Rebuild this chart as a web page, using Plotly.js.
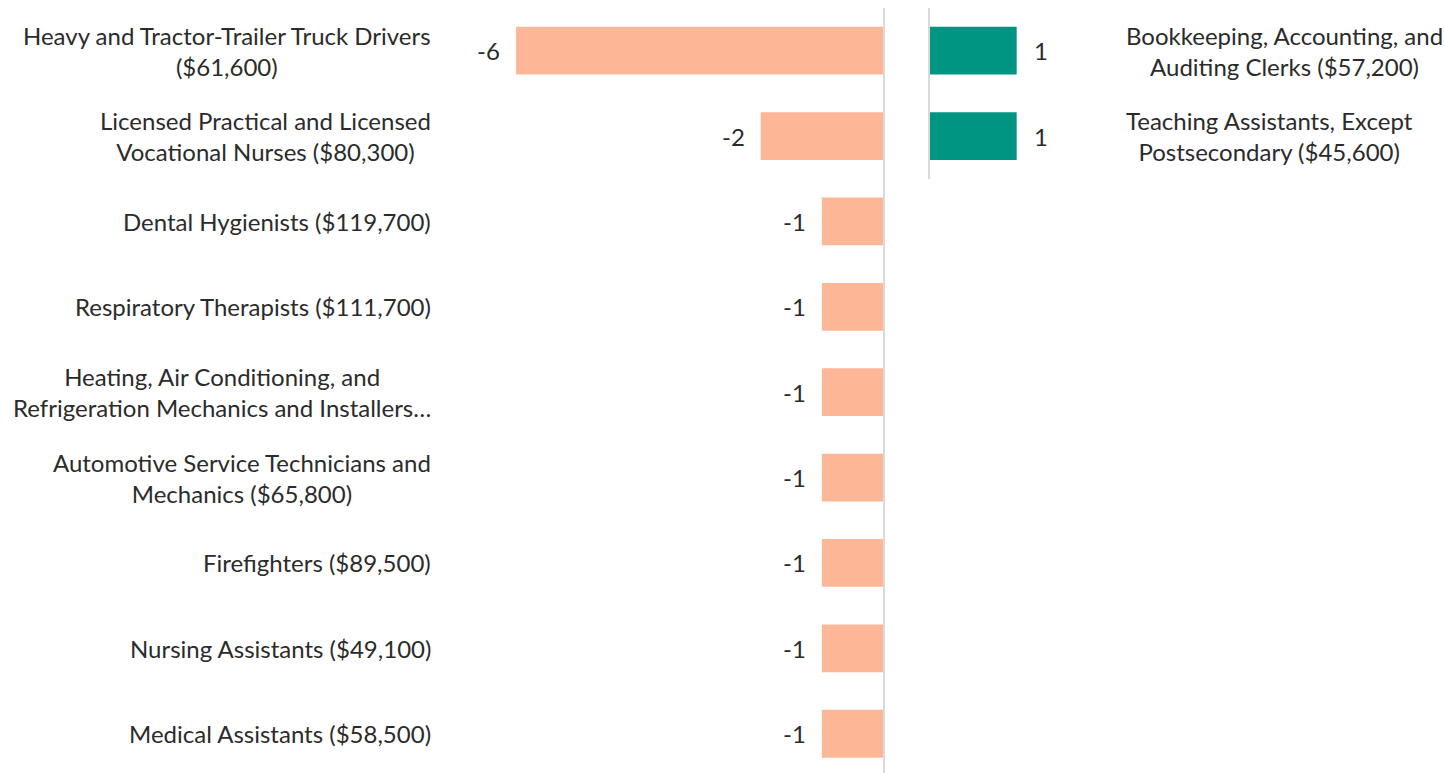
<!DOCTYPE html>
<html>
<head>
<meta charset="utf-8">
<script src="https://cdn.plot.ly/plotly-3.0.1.min.js"></script>
<style>html,body{margin:0;padding:0;background:#fff;}#chart{width:1445px;height:773px;}</style>
</head>
<body>
<div id="chart"></div>
<script>
// Occupations with declining jobs (left panel)
const declineLabels = [
  "Heavy and Tractor-Trailer Truck Drivers<br>($61,600)",
  "Licensed Practical and Licensed<br>Vocational Nurses ($80,300)",
  "Dental Hygienists ($119,700)",
  "Respiratory Therapists ($111,700)",
  "Heating, Air Conditioning, and<br>Refrigeration Mechanics and Installers…",
  "Automotive Service Technicians and<br>Mechanics ($65,800)",
  "Firefighters ($89,500)",
  "Nursing Assistants ($49,100)",
  "Medical Assistants ($58,500)"
];
const declineValues = [-6, -2, -1, -1, -1, -1, -1, -1, -1];

// Occupations with growing jobs (right panel)
const growthLabels = [
  "Bookkeeping, Accounting, and<br>Auditing Clerks ($57,200)",
  "Teaching Assistants, Except<br>Postsecondary ($45,600)"
];
const growthValues = [1, 1];

const declineColor = "#FDB797";
const growthColor = "#009483";
const textColor = "#2b2b2b";
const fontFamily = "Lato, 'Open Sans', sans-serif";
const fs = 24;

const idxDecl = declineLabels.map((_, i) => i);
const idxGrow = growthLabels.map((_, i) => i);

const traces = [
  {type: "bar", orientation: "h", x: declineValues, y: idxDecl, xaxis: "x", yaxis: "y",
   marker: {color: declineColor}, width: 0.56, hoverinfo: "none"},
  {type: "bar", orientation: "h", x: growthValues, y: idxGrow, xaxis: "x2", yaxis: "y2",
   marker: {color: growthColor}, width: 0.56, hoverinfo: "none"}
];

const annotations = [];
declineLabels.forEach((lab, i) => {
  annotations.push({xref: "paper", yref: "y", x: 433/1445, y: i, text: lab, xanchor: "right", yanchor: "middle",
    align: "center", showarrow: false, font: {family: fontFamily, size: fs, color: textColor}});
  annotations.push({xref: "x", yref: "y", x: declineValues[i], y: i, text: String(declineValues[i]), xanchor: "right",
    yanchor: "middle", xshift: -14, showarrow: false, font: {family: fontFamily, size: fs, color: textColor}});
});
growthLabels.forEach((lab, i) => {
  annotations.push({xref: "paper", yref: "y2", x: 1124/1445, y: i, text: lab, xanchor: "left", yanchor: "middle",
    align: "center", showarrow: false, font: {family: fontFamily, size: fs, color: textColor}});
  annotations.push({xref: "x2", yref: "y2", x: growthValues[i], y: i, text: String(growthValues[i]), xanchor: "left",
    yanchor: "middle", xshift: 15, showarrow: false, font: {family: fontFamily, size: fs, color: textColor}});
});

const layout = {
  width: 1445, height: 773,
  margin: {l: 0, r: 0, t: 8, b: 0},
  paper_bgcolor: "#fff", plot_bgcolor: "rgba(0,0,0,0)",
  showlegend: false,
  font: {family: fontFamily, size: fs, color: textColor},
  xaxis: {domain: [455/1445, 883/1445], range: [-7, 0], showgrid: false, zeroline: false,
          showticklabels: false, ticks: "", fixedrange: true},
  yaxis: {domain: [0, 1], range: [8.46, -0.5], showgrid: false, zeroline: false,
          showticklabels: false, ticks: "", showline: true, side: "right", linecolor: "#d9d9d9", linewidth: 2},
  xaxis2: {domain: [930/1445, 1060/1445], range: [0, 1.5], anchor: "y2", showgrid: false, zeroline: false,
           showticklabels: false, ticks: ""},
  yaxis2: {domain: [1 - 2*85.4/765, 1], range: [1.5, -0.5], anchor: "x2", showgrid: false, zeroline: false,
           showticklabels: false, ticks: "", showline: true, side: "left", linecolor: "#d9d9d9", linewidth: 2},
  annotations: annotations
};

Plotly.newPlot("chart", traces, layout, {displayModeBar: false, staticPlot: true});
</script>
</body>
</html>
